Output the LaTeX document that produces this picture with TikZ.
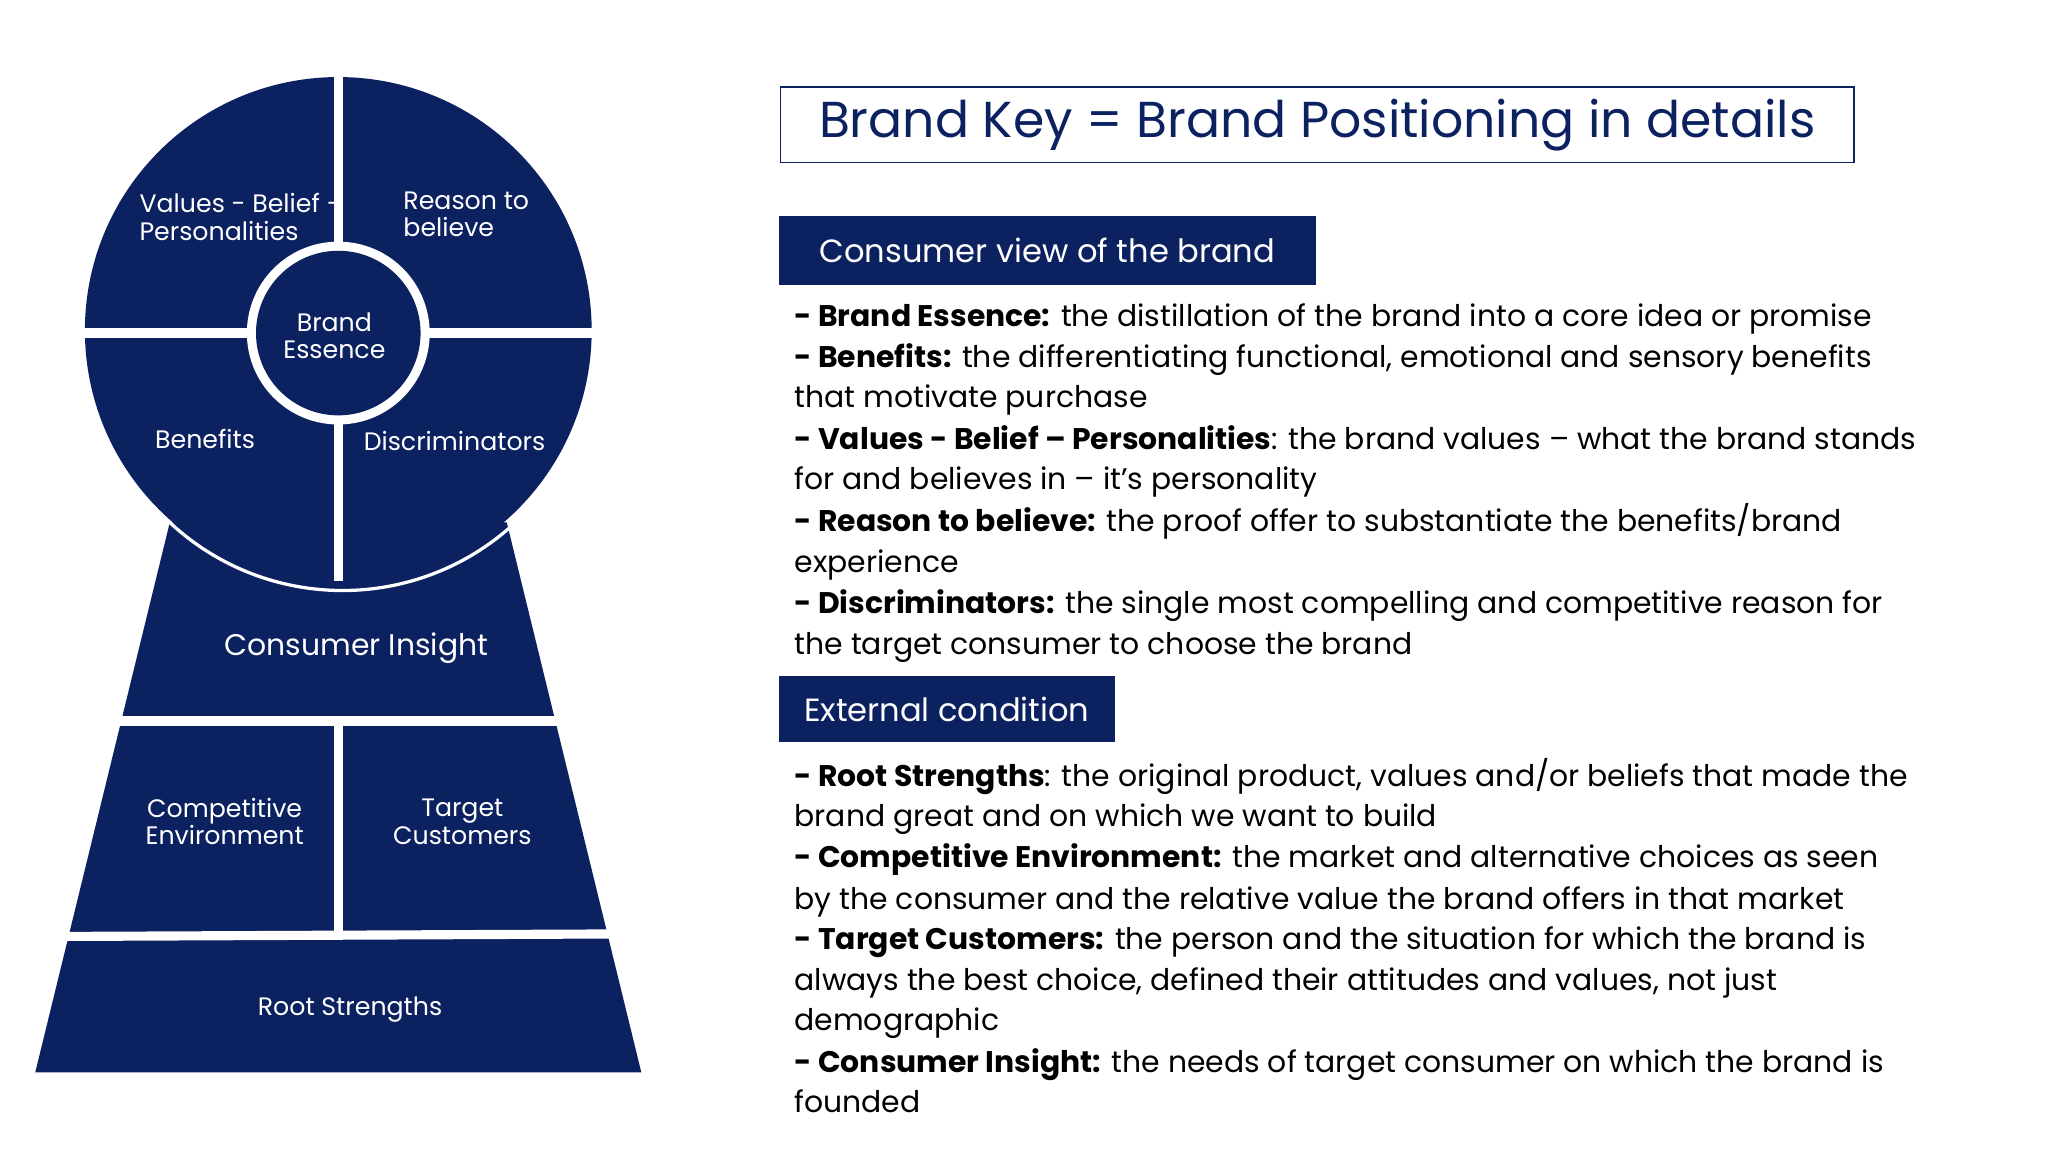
\documentclass[tikz,border=0pt]{standalone}
\usepackage{fontspec}
\setmainfont{Poppins}
\definecolor{navy}{RGB}{12,33,96}
\begin{document}
\begin{tikzpicture}[x=0.02cm,y=-0.02cm,
  body/.style={anchor=base west,inner sep=0,font=\fontsize{13}{15}\selectfont,text=black},
  lab/.style={text=white,align=left,font=\fontsize{11}{12}\selectfont,inner sep=0},
  gap/.style={white,line width=0.14cm},
  hdr/.style={fill=navy,text=white,anchor=north west,font=\fontsize{14}{16}\selectfont,inner sep=0}]
\useasboundingbox (0,0) rectangle (1568,882);
% keyhole
\fill[navy] (130,400) -- (388,400) -- (491,821) -- (27,821) -- cycle;
\fill[navy] (259,253) circle (194);
\draw[white,line width=0.05cm] (130,400) arc[start angle=227,end angle=313,radius=194*0.02cm];
\draw[gap] (259,58) -- (259,445);
\draw[gap] (60,255) -- (458,255);
\draw[gap] (80,552) -- (440,552);
\draw[gap] (40,717) -- (480,715);
\draw[gap] (259,552) -- (259,717);
\fill[white] (259,255) circle (70);
\fill[navy] (259,255) circle (63);
\node[lab] (vb) at (185,166) {Values - Belief --\\Personalities};
\node[lab] (rb) at (357,164) {Reason to\\believe};
\node[lab,align=center] (be) at (256,257) {Brand\\Essence};
\node[lab] (bn) at (157,336) {Benefits};
\node[lab] (ds) at (348,338) {Discriminators};
\node[lab,font=\fontsize{13}{14}\selectfont] (ci) at (273,496) {Consumer Insight};
\node[lab,align=center] (ce) at (172,629) {Competitive\\Environment};
\node[lab,align=center] (tc) at (354,629) {Target\\Customers};
\node[lab] (rs) at (268,773) {Root Strengths};
% right side
\node[draw=navy,line width=0.6pt,minimum width=822*0.02cm,minimum height=58*0.02cm,anchor=north west,inner sep=0,
  text=navy,font=\fontsize{22}{24}\selectfont] (title) at (597,66) {Brand Key = Brand Positioning in details};
\node[hdr,minimum width=411*0.02cm,minimum height=53*0.02cm] (h1) at (596,165) {Consumer view of the brand};
\node[hdr,minimum width=257*0.02cm,minimum height=51*0.02cm] (h2) at (596,517) {External condition};
\node[body] (l1) at (608,250) {\textbf{- Brand Essence:} the distillation of the brand into a core idea or promise};
\node[body] (l2) at (608,281) {\textbf{- Benefits:} the differentiating functional, emotional and sensory benefits};
\node[body] (l3) at (608,312) {that motivate purchase};
\node[body] (l4) at (608,344) {\textbf{- Values - Belief -- Personalities}: the brand values -- what the brand stands};
\node[body] (l5) at (608,375) {for and believes in -- it's personality};
\node[body] (l6) at (608,407) {\textbf{- Reason to believe:} the proof offer to substantiate the benefits/brand};
\node[body] (l7) at (608,438) {experience};
\node[body] (l8) at (608,470) {\textbf{- Discriminators:} the single most compelling and competitive reason for};
\node[body] (l9) at (608,501) {the target consumer to choose the brand};
\node[body] (m1) at (608,602) {\textbf{- Root Strengths}: the original product, values and/or beliefs that made the};
\node[body] (m2) at (608,633) {brand great and on which we want to build};
\node[body] (m3) at (608,664) {\textbf{- Competitive Environment:} the market and alternative choices as seen};
\node[body] (m4) at (608,696) {by the consumer and the relative value the brand offers in that market};
\node[body] (m5) at (608,727) {\textbf{- Target Customers:} the person and the situation for which the brand is};
\node[body] (m6) at (608,758) {always the best choice, defined their attitudes and values, not just};
\node[body] (m7) at (608,789) {demographic};
\node[body] (m8) at (608,821) {\textbf{- Consumer Insight:} the needs of target consumer on which the brand is};
\node[body] (m9) at (608,852) {founded};
\end{tikzpicture}
\end{document}
